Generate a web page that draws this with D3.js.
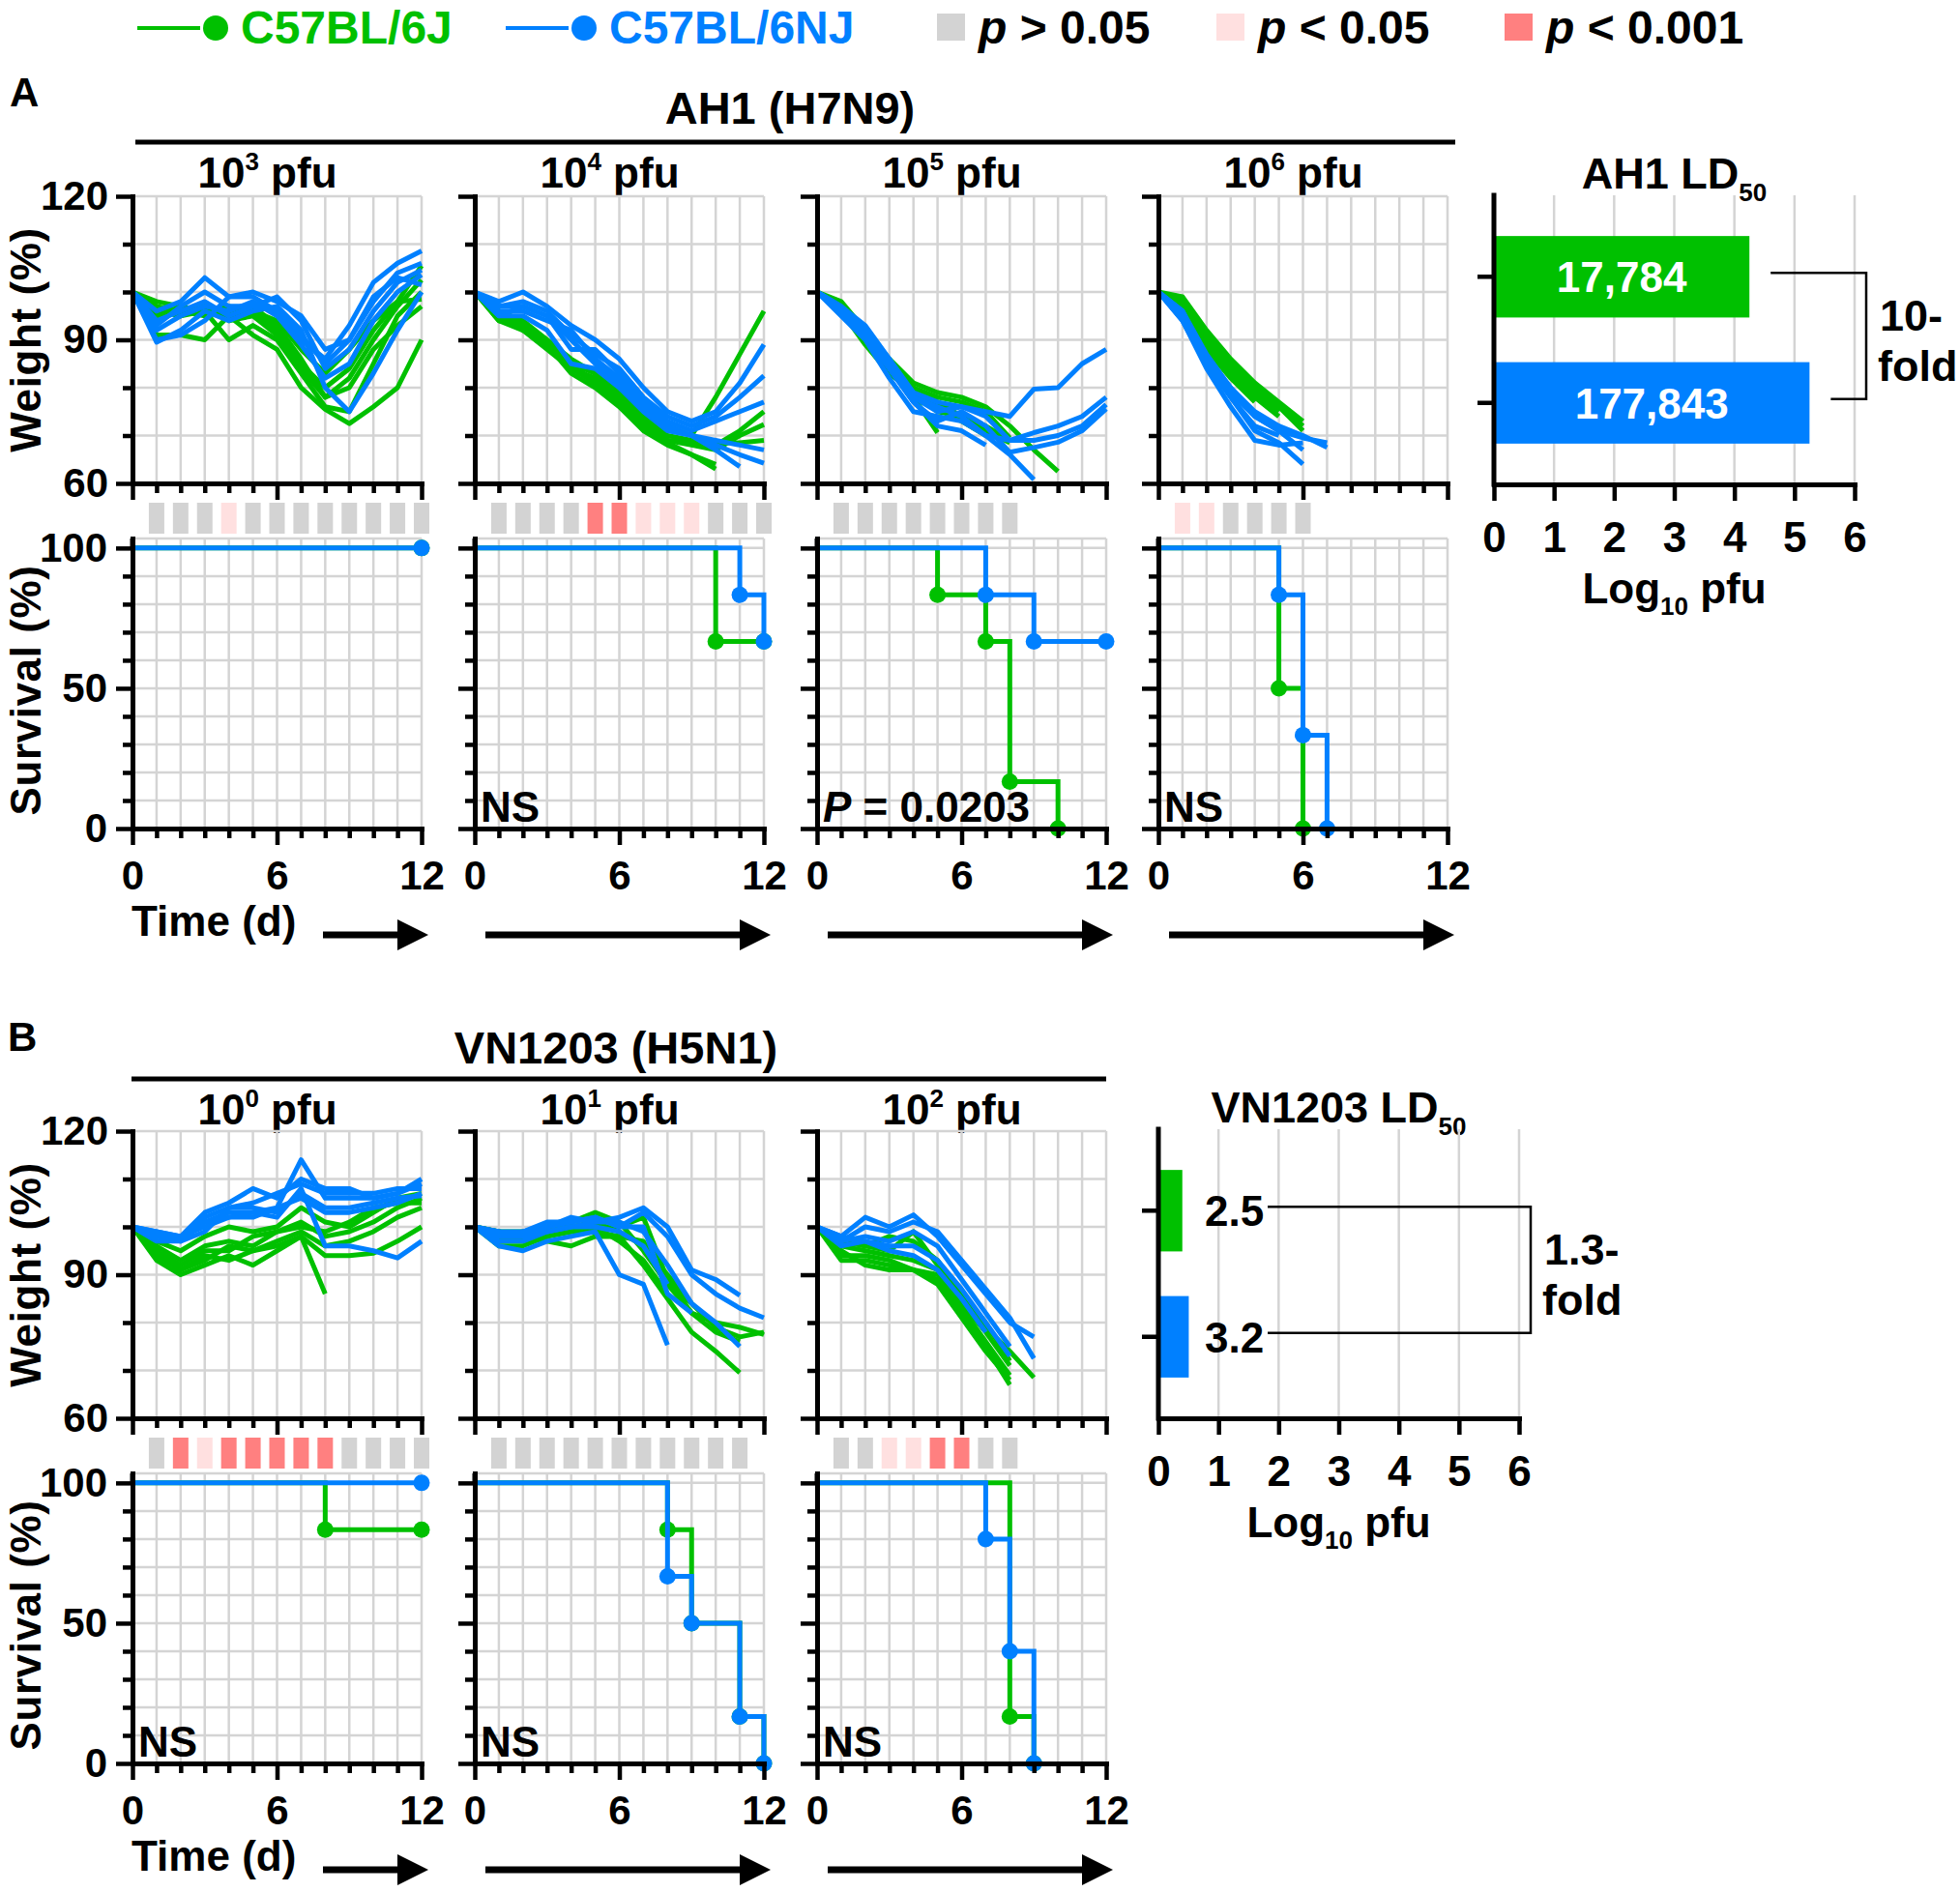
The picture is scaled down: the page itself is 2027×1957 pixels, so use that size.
<!DOCTYPE html>
<html>
<head>
<meta charset="utf-8">
<script src="https://cdn.jsdelivr.net/npm/d3@7"></script>
<style>body{margin:0;background:#fff}</style>
</head>
<body>
<div id="chart"></div>
<script>
// strains
const strainNames = ['C57BL/6J', 'C57BL/6NJ'];
const strainColors = ['#00c000', '#0080ff'];

// significance legend (0 = p>0.05, 1 = p<0.05, 2 = p<0.001)
const sigOps = ['>', '<', '<'];
const sigVals = ['0.05', '0.05', '0.001'];
const sigFill = ['#d3d3d3', '#ffe0e0', '#ff8080'];

// doses (log10 pfu)
const dosesA = [3, 4, 5, 6];
const dosesB = [0, 1, 2];

// body weight (% of day 0), one array per mouse, index = day
const wtA1J = [
  [100, 98, 97, 96, 97, 96, 92, 85, 80, 84, 92, 98, 105.5],
  [100, 96, 95, 97, 94, 95, 91, 84, 78, 82, 90, 97, 102.5],
  [100, 97, 95, 96, 90, 93, 90, 83, 76, 75, 85, 95, 100],
  [100, 95, 96, 97, 95, 96, 94, 88, 83, 88, 94, 98, 98.5],
  [100, 91, 91, 90, 95, 91, 88, 80, 75.5, 72.5, 76, 80, 90],
  [100, 97, 96, 95, 96, 97, 93, 86, 78, 80, 88, 93, 97]
];
const wtA1NJ = [
  [100, 90, 91, 94, 99, 99, 96, 90, 86, 93, 102, 106, 108.6],
  [100, 96, 98, 103, 99, 100, 98, 95, 88, 90, 98, 104, 106],
  [100, 93, 97, 100, 97, 97, 99, 94, 84, 88, 96, 102, 104.6],
  [100, 92, 95, 97, 96, 98, 95, 89, 82, 85, 94, 100, 103.6],
  [100, 89.5, 92, 96, 94, 96, 97, 92, 80, 75, 83, 92, 100],
  [100, 94, 96, 98, 95, 97, 96, 91, 85, 90, 99, 103, 101.5]
];
const wtA2J = [
  [100, 96, 94, 90, 85, 83, 80, 76, 72, 70, 78, 87, 96],
  [100, 95, 93, 89, 84, 82, 78, 74, 69, 68.5, 68, 71, 75],
  [100, 94, 92, 88, 84, 81, 77, 73, 69, 68, 67, 70, 72.3],
  [100, 96, 93, 90, 86, 83, 79, 74, 70, 69, 68.5, 68.5, 69],
  [100, 95, 92, 89, 85, 81, 77, 72, 68.5, 66, 64],
  [100, 94, 93, 89, 83, 80, 76, 71, 68, 66, 63]
];
const wtA2NJ = [
  [100, 98, 100, 97, 93, 90, 86, 80, 75, 73, 75, 81, 89],
  [100, 97, 98, 96, 91, 87, 84, 78, 74, 72, 74, 78, 82.5],
  [100, 95, 97, 95, 88, 88, 83, 77, 73, 71, 73, 75, 77],
  [100, 96, 96, 94, 92, 86, 82, 76, 72, 70, 69, 68, 67],
  [100, 95, 95, 92, 85, 84, 80, 75, 71, 70, 68, 66, 64.2],
  [100, 97, 97, 95, 90, 85, 81, 76, 72, 70, 67, 63.5]
];
const wtA3J = [
  [100, 98, 92, 86, 81, 79, 78, 76, 72, 67, 62.5],
  [100, 97, 91, 85, 80, 78, 77, 75, 69.5],
  [100, 96, 90, 84, 79, 76, 73, 70],
  [100, 97, 91, 84, 80, 77, 74, 72, 69],
  [100, 96, 89, 83, 79, 75, 74, 71, 68.5],
  [100, 97, 90, 84, 78, 70.6]
];
const wtA3NJ = [
  [100, 97, 93, 86, 79, 77, 76, 75, 74, 79.7, 80, 85, 88],
  [100, 96, 92, 85, 78, 75, 76, 74, 69, 70.6, 72, 74, 78],
  [100, 96, 91, 84, 77, 73, 75, 72, 66.5, 67.5, 68.6, 71, 75.6],
  [100, 95, 90, 82, 75, 74, 73, 70, 69, 69, 70, 72, 76.5],
  [100, 97, 92, 86, 78, 76, 74, 70, 66, 60.8],
  [100, 96, 91, 84, 77, 72, 71, 68]
];
const wtA4J = [
  [100, 99, 92, 86, 81, 77, 73],
  [100, 98, 91, 85, 80, 76.5, 72],
  [100, 97, 90, 84, 79, 76, 71],
  [100, 98, 90, 83, 79, 75],
  [100, 97, 89, 83, 78, 74],
  [100, 96, 88, 82, 77]
];
const wtA4NJ = [
  [100, 96, 86, 79, 74, 71, 67],
  [100, 95, 85, 78, 71, 68.5, 64],
  [100, 94, 84, 76, 69, 68, 68.5],
  [100, 96, 87, 80, 74, 71, 69.5, 68.5],
  [100, 95, 86, 80, 75, 72, 70, 67.5],
  [100, 94, 85, 78, 72, 70]
];
const wtB1J = [
  [100, 93, 90, 92, 94, 92, 95, 98, 94, 94, 94.5, 97, 100],
  [100, 95, 91, 93, 96, 95, 97, 99, 96, 97, 99, 102, 104],
  [100, 96, 93, 96, 97, 96, 99, 101, 98, 99, 101, 104, 106],
  [100, 95, 92, 95, 95, 98, 99, 100, 99, 101, 104, 105, 105],
  [100, 97, 95, 98, 100, 99, 100, 104, 101, 100, 103, 106, 107],
  [100, 94, 91, 94, 93, 95, 96, 98, 86]
];
const wtB1NJ = [
  [100, 98, 97, 101, 103, 103, 104, 114, 106, 106, 106, 107, 110],
  [100, 99, 98, 103, 105, 108, 106, 110, 108, 108, 106, 107, 109],
  [100, 98, 97, 102, 104, 105, 107, 109, 107, 107, 107, 108, 108],
  [100, 97, 97, 99, 104, 104, 103, 107, 104, 104, 105, 106, 106.5],
  [100, 99, 98, 100, 102, 103, 102, 108, 96, 96, 95, 93.5, 97],
  [100, 98, 98, 101, 102, 102, 104, 106, 103, 103, 104, 105, 107]
];
const wtB2J = [
  [100, 99, 99, 100, 101, 103, 101, 95, 88, 82, 78, 76],
  [100, 98, 98, 99, 100, 101, 99, 96, 90, 84, 79, 77, 78],
  [100, 97, 97, 98, 99, 99, 98, 92, 85, 78, 74, 69.5],
  [100, 98, 98, 98, 100, 100, 100, 102, 89, 82, 80, 79, 77.5],
  [100, 99, 98, 97, 96, 98, 98, 97, 88, 84],
  [100, 96, 96, 98, 99, 100, 97, 93, 86]
];
const wtB2NJ = [
  [100, 96, 95, 97, 98, 99, 90, 88, 75.3],
  [100, 98, 98, 100, 102, 101, 102, 104, 100, 91, 89, 85.7],
  [100, 99, 99, 101, 101, 102, 100, 103, 98, 90, 86, 83, 81],
  [100, 97, 97, 99, 100, 101, 101, 99, 92, 84, 80, 75],
  [100, 98, 99, 100, 101, 102, 100, 100, 86, 82],
  [100, 99, 98, 99, 100, 100, 99, 96, 88]
];
const wtB3J = [
  [100, 93, 93, 92, 91, 88, 81, 74, 68],
  [100, 94, 94, 93, 91, 89, 82, 75, 67],
  [100, 95, 92, 91, 91, 90, 83, 76, 69],
  [100, 97, 96, 95, 99, 92, 84, 78, 71],
  [100, 96, 95, 94, 93, 91, 85, 79, 74, 68.5],
  [100, 97, 96, 98, 97, 93, 86, 80, 72]
];
const wtB3NJ = [
  [100, 98, 102, 100, 102.5, 98, 92, 86, 80, 77],
  [100, 97, 100, 99, 101, 99, 93, 87, 81, 72.5],
  [100, 97, 98, 97, 99, 96, 89, 82, 75],
  [100, 96, 97, 96, 96, 93, 87, 80, 73],
  [100, 98, 97, 95, 94, 91, 85, 78]
];

// daily significance, first entry = day 1
const sigA1 = [0, 0, 0, 1, 0, 0, 0, 0, 0, 0, 0, 0];
const sigA2 = [0, 0, 0, 0, 2, 2, 1, 1, 1, 0, 0, 0];
const sigA3 = [0, 0, 0, 0, 0, 0, 0, 0];
const sigA4 = [1, 1, 0, 0, 0, 0];
const sigB1 = [0, 2, 1, 2, 2, 2, 2, 2, 0, 0, 0, 0];
const sigB2 = [0, 0, 0, 0, 0, 0, 0, 0, 0, 0, 0];
const sigB3 = [0, 0, 1, 1, 2, 2, 0, 0];

// survival [day, %]
const svA1J = [[0, 100], [12, 100]];
const svA1NJ = [[0, 100], [12, 100]];
const svA2J = [[0, 100], [10, 66.7], [12, 66.7]];
const svA2NJ = [[0, 100], [11, 83.3], [12, 66.7]];
const svA3J = [[0, 100], [5, 83.3], [7, 66.7], [8, 16.7], [10, 0]];
const svA3NJ = [[0, 100], [7, 83.3], [9, 66.7], [12, 66.7]];
const svA4J = [[0, 100], [5, 50], [6, 0]];
const svA4NJ = [[0, 100], [5, 83.3], [6, 33.3], [7, 0]];
const svB1J = [[0, 100], [8, 83.3], [12, 83.3]];
const svB1NJ = [[0, 100], [12, 100]];
const svB2J = [[0, 100], [8, 83.3], [9, 50], [11, 16.7], [12, 0]];
const svB2NJ = [[0, 100], [8, 66.7], [9, 50], [11, 16.7], [12, 0]];
const svB3J = [[0, 100], [8, 16.7], [9, 0]];
const svB3NJ = [[0, 100], [7, 80], [8, 40], [9, 0]];

// log-rank results
const notesA = ['', 'NS', 'P = 0.0203', 'NS'];
const notesB = ['NS', 'NS', 'NS'];

// LD50 (pfu)
const ld50A = [17784, 177843];
const ld50B = [2.5, 3.2];
const foldA = ['10-', 'fold'];
const foldB = ['1.3-', 'fold'];
const ldTicks = [0, 1, 2, 3, 4, 5, 6];

// ---- layout ----
const W = 2027, H = 1957;
const colX = [137, 491, 845, 1198];
const plotW = 299;
const rowOff = [0, 967];
const wtTop = 203, wtBot = 500;
const svTop = 557, svBot = 857;
const sigTop = 520, sigH = 32;
const gridCol = '#d4d4d4';
const FONT = '"Liberation Sans", Arial, Helvetica, sans-serif';

const svg = d3.select('#chart').append('svg')
  .attr('width', W).attr('height', H)
  .attr('viewBox', [0, 0, W, H])
  .style('font-family', FONT)
  .style('font-weight', 'bold');
svg.append('rect').attr('width', W).attr('height', H).attr('fill', '#fff');

function styleAxis(g, fs) {
  g.attr('font-family', null).attr('font-size', fs || 42).attr('font-weight', 'bold');
  g.select('.domain').attr('stroke-width', 5).attr('stroke-linecap', 'square');
  g.selectAll('.tick line').attr('stroke-width', 4.5);
  g.selectAll('.tick text').attr('fill', '#000');
}

// ---- legend ----
const legend = svg.append('g');
const legX = [[142, 223, 249], [523, 604, 630]];
strainNames.forEach((n, i) => {
  legend.append('line').attr('x1', legX[i][0]).attr('x2', legX[i][0] + 65)
    .attr('y1', 29).attr('y2', 29).attr('stroke', strainColors[i]).attr('stroke-width', 4);
  legend.append('circle').attr('cx', legX[i][1]).attr('cy', 29).attr('r', 13).attr('fill', strainColors[i]);
  legend.append('text').attr('x', legX[i][2]).attr('y', 45).attr('font-size', 48)
    .attr('fill', strainColors[i]).text(n);
});
const sigLegX = [969, 1258, 1556];
sigFill.forEach((c, i) => {
  legend.append('rect').attr('x', sigLegX[i]).attr('y', 14).attr('width', 29).attr('height', 28).attr('fill', c);
  const t = legend.append('text').attr('x', sigLegX[i] + 43).attr('y', 45).attr('font-size', 48);
  t.append('tspan').attr('font-style', 'italic').text('p');
  t.append('tspan').text(` ${sigOps[i]} ${sigVals[i]}`);
});

// ---- section headers ----
svg.append('text').attr('x', 10).attr('y', 110).attr('font-size', 42).text('A');
svg.append('text').attr('x', 8).attr('y', 1087).attr('font-size', 42).text('B');
svg.append('text').attr('x', 817).attr('y', 128).attr('font-size', 47).attr('text-anchor', 'middle').text('AH1 (H7N9)');
svg.append('line').attr('x1', 140).attr('x2', 1505).attr('y1', 147).attr('y2', 147).attr('stroke', '#000').attr('stroke-width', 5);
svg.append('text').attr('x', 637).attr('y', 1100).attr('font-size', 47).attr('text-anchor', 'middle').text('VN1203 (H5N1)');
svg.append('line').attr('x1', 136).attr('x2', 1144).attr('y1', 1116).attr('y2', 1116).attr('stroke', '#000').attr('stroke-width', 5);

// ---- one dose column: weight + significance strip + survival ----
function drawPanel(row, col, dose, wtJ, wtNJ, sig, svJ, svNJ, note) {
  const off = rowOff[row];
  const x0 = colX[col];
  const x = d3.scaleLinear().domain([0, 12]).range([x0, x0 + plotW]);
  const yW = d3.scaleLinear().domain([60, 120]).range([wtBot + off, wtTop + off]);
  const yS = d3.scaleLinear().domain([0, 103.4]).range([svBot + off, svTop + off]);
  const g = svg.append('g');
  const days = d3.range(1, 13);

  // title
  const t = g.append('text').attr('x', (x(0) + x(12)) / 2 - 10).attr('y', 194 + off + (row ? 2 : 0))
    .attr('font-size', 44).attr('text-anchor', 'middle');
  t.append('tspan').text('10');
  t.append('tspan').attr('font-size', 26).attr('dy', -18).text(dose);
  t.append('tspan').attr('dy', 18).text(' pfu');

  // grids
  const grid = g.append('g').attr('stroke', gridCol).attr('stroke-width', 2.5);
  grid.selectAll('.vw').data(days).join('line')
    .attr('x1', d => x(d)).attr('x2', d => x(d)).attr('y1', yW(60)).attr('y2', yW(120));
  grid.selectAll('.hw').data([70, 80, 90, 100, 110, 120]).join('line')
    .attr('x1', x(0)).attr('x2', x(12)).attr('y1', d => yW(d)).attr('y2', d => yW(d));
  grid.selectAll('.vs').data(days).join('line')
    .attr('x1', d => x(d)).attr('x2', d => x(d)).attr('y1', yS(0)).attr('y2', yS(103.4));
  grid.selectAll('.hs').data([10, 20, 30, 40, 50, 60, 70, 80, 90, 100, 103.4]).join('line')
    .attr('x1', x(0)).attr('x2', x(12)).attr('y1', d => yS(d)).attr('y2', d => yS(d));

  // weight lines
  const line = d3.line().x((d, i) => x(i)).y(d => yW(d));
  [wtJ, wtNJ].forEach((set, s) => {
    g.append('g').selectAll('path').data(set).join('path')
      .attr('d', line).attr('fill', 'none').attr('stroke', strainColors[s])
      .attr('stroke-width', 5).attr('stroke-linejoin', 'round');
  });

  // weight axes
  const yMaj = g.append('g').attr('transform', `translate(${x(0)},0)`)
    .call(d3.axisLeft(yW).tickValues([60, 90, 120]).tickSize(17).tickSizeOuter(0).tickPadding(8)
      .tickFormat(col === 0 ? d3.format('d') : () => ''));
  styleAxis(yMaj);
  const yMin = g.append('g').attr('transform', `translate(${x(0)},0)`)
    .call(d3.axisLeft(yW).tickValues([70, 80, 100, 110]).tickSize(10).tickSizeOuter(0).tickFormat(''));
  styleAxis(yMin);
  const xMaj = g.append('g').attr('transform', `translate(0,${yW(60)})`)
    .call(d3.axisBottom(x).tickValues([0, 6, 12]).tickSize(17).tickSizeOuter(0).tickFormat(''));
  styleAxis(xMaj);
  const xMin = g.append('g').attr('transform', `translate(0,${yW(60)})`)
    .call(d3.axisBottom(x).tickValues([1, 2, 3, 4, 5, 7, 8, 9, 10, 11]).tickSize(10).tickSizeOuter(0).tickFormat(''));
  styleAxis(xMin);

  // significance strip
  g.append('g').selectAll('rect').data(sig).join('rect')
    .attr('x', (d, i) => x(i + 1) - 8).attr('width', 16)
    .attr('y', sigTop + off).attr('height', sigH)
    .attr('fill', d => sigFill[d]);

  // survival
  const sline = d3.line().x(d => x(d[0])).y(d => yS(d[1])).curve(d3.curveStepAfter);
  [svJ, svNJ].forEach((sv, s) => {
    g.append('path').attr('d', sline(sv)).attr('fill', 'none')
      .attr('stroke', strainColors[s]).attr('stroke-width', 5);
    g.append('g').selectAll('circle').data(sv.slice(1)).join('circle')
      .attr('cx', d => x(d[0])).attr('cy', d => yS(d[1])).attr('r', 8.5)
      .attr('fill', strainColors[s]);
  });

  const sMaj = g.append('g').attr('transform', `translate(${x(0)},0)`)
    .call(d3.axisLeft(yS).tickValues([0, 50, 100]).tickSize(17).tickSizeOuter(0).tickPadding(9)
      .tickFormat(col === 0 ? d3.format('d') : () => ''));
  styleAxis(sMaj);
  g.append('line').attr('x1', x(0)).attr('x2', x(0)).attr('y1', yS(100)).attr('y2', yS(103.4))
    .attr('stroke', '#000').attr('stroke-width', 5);
  const sMin = g.append('g').attr('transform', `translate(${x(0)},0)`)
    .call(d3.axisLeft(yS).tickValues([10, 20, 30, 40, 60, 70, 80, 90]).tickSize(10).tickSizeOuter(0).tickFormat(''));
  styleAxis(sMin);
  const sxMaj = g.append('g').attr('transform', `translate(0,${yS(0)})`)
    .call(d3.axisBottom(x).tickValues([0, 6, 12]).tickSize(17).tickSizeOuter(0).tickPadding(16));
  styleAxis(sxMaj);
  const sxMin = g.append('g').attr('transform', `translate(0,${yS(0)})`)
    .call(d3.axisBottom(x).tickValues([1, 2, 3, 4, 5, 7, 8, 9, 10, 11]).tickSize(10).tickSizeOuter(0).tickFormat(''));
  styleAxis(sxMin);

  // log-rank note
  if (note) {
    const nt = g.append('text').attr('x', x(0) + 6).attr('y', yS(0) - 7).attr('font-size', 44);
    if (note.startsWith('P')) {
      nt.append('tspan').attr('font-style', 'italic').text('P');
      nt.append('tspan').text(note.slice(1));
    } else nt.text(note);
  }

  // time arrow
  const ay = svBot + off + 110;
  const ax1 = col === 0 ? x(0) + 197 : x(0) + 11;
  const ax2 = x(0) + 306;
  g.append('line').attr('x1', ax1).attr('x2', ax2 - 25).attr('y1', ay).attr('y2', ay)
    .attr('stroke', '#000').attr('stroke-width', 7);
  g.append('path').attr('d', `M${ax2 - 32},${ay - 16}L${ax2},${ay}L${ax2 - 32},${ay + 16}Z`).attr('fill', '#000');

  if (col === 0) {
    g.append('text').attr('x', x(0) - 1).attr('y', svBot + off + 111).attr('font-size', 44).text('Time (d)');
    const yt = (label, cy) => g.append('text')
      .attr('transform', `translate(42,${cy}) rotate(-90)`)
      .attr('text-anchor', 'middle').attr('font-size', 44).attr('letter-spacing', 0.6).text(label);
    yt('Weight (%)', (wtTop + wtBot) / 2 + off);
    yt('Survival (%)', 714 + off);
  }
}

drawPanel(0, 0, dosesA[0], wtA1J, wtA1NJ, sigA1, svA1J, svA1NJ, notesA[0]);
drawPanel(0, 1, dosesA[1], wtA2J, wtA2NJ, sigA2, svA2J, svA2NJ, notesA[1]);
drawPanel(0, 2, dosesA[2], wtA3J, wtA3NJ, sigA3, svA3J, svA3NJ, notesA[2]);
drawPanel(0, 3, dosesA[3], wtA4J, wtA4NJ, sigA4, svA4J, svA4NJ, notesA[3]);
drawPanel(1, 0, dosesB[0], wtB1J, wtB1NJ, sigB1, svB1J, svB1NJ, notesB[0]);
drawPanel(1, 1, dosesB[1], wtB2J, wtB2NJ, sigB2, svB2J, svB2NJ, notesB[1]);
drawPanel(1, 2, dosesB[2], wtB3J, wtB3NJ, sigB3, svB3J, svB3NJ, notesB[2]);

// ---- LD50 bar charts ----
function drawLD(top, left, vals, virus, fold, inside, fmt) {
  const x = d3.scaleLinear().domain([0, 6]).range([left, left + 373]);
  const y = d3.scaleBand().domain(strainNames).range([top, top + 299])
    .paddingInner(0.354).paddingOuter(0.323);
  const g = svg.append('g');

  const tt = g.append('text').attr('x', (x(0) + x(6)) / 2).attr('y', top - 7)
    .attr('font-size', 45).attr('text-anchor', 'middle');
  tt.append('tspan').text(virus + ' LD');
  tt.append('tspan').attr('font-size', 26).attr('dy', 13).text('50');

  g.append('g').attr('stroke', gridCol).attr('stroke-width', 2.5)
    .selectAll('line').data([1, 2, 3, 4, 5, 6]).join('line')
    .attr('x1', d => x(d)).attr('x2', d => x(d)).attr('y1', top).attr('y2', top + 299);

  g.append('g').selectAll('rect').data(vals).join('rect')
    .attr('x', x(0)).attr('y', (d, i) => y(strainNames[i]))
    .attr('width', d => x(Math.log10(d)) - x(0)).attr('height', y.bandwidth())
    .attr('fill', (d, i) => strainColors[i]);

  const cy = i => y(strainNames[i]) + y.bandwidth() / 2;
  g.append('g').selectAll('text').data(vals).join('text')
    .attr('x', d => inside ? (x(0) + x(Math.log10(d))) / 2 : x(0) + 48)
    .attr('y', (d, i) => cy(i) + 16)
    .attr('text-anchor', inside ? 'middle' : 'start')
    .attr('font-size', 44).attr('fill', inside ? '#fff' : '#000')
    .text(fmt);

  const yAx = g.append('g').attr('transform', `translate(${x(0)},0)`)
    .call(d3.axisLeft(y).tickSize(17).tickSizeOuter(0).tickFormat(''));
  styleAxis(yAx);
  yAx.select('.domain').attr('d', `M0,${top}V${top + 299}`);
  const xAx = g.append('g').attr('transform', `translate(0,${top + 299})`)
    .call(d3.axisBottom(x).tickValues(ldTicks).tickSize(17).tickSizeOuter(0).tickPadding(22)
      .tickFormat(d3.format('d')));
  styleAxis(xAx, 44);

  const lt = g.append('text').attr('x', (x(0) + x(6)) / 2).attr('y', top + 299 + 123)
    .attr('font-size', 44).attr('text-anchor', 'middle');
  lt.append('tspan').text('Log');
  lt.append('tspan').attr('font-size', 26).attr('dy', 12).text('10');
  lt.append('tspan').attr('dy', -12).text(' pfu');

  // fold-change bracket
  const bx = x(6) + 12;
  const sx = inside ? vals.map(d => x(Math.log10(d)) + 22) : [x(0) + 113, x(0) + 113];
  g.append('path')
    .attr('d', `M${sx[0]},${cy(0) - 4}H${bx}V${cy(1) - 4}H${sx[1]}`)
    .attr('fill', 'none').attr('stroke', '#000').attr('stroke-width', 2.5);
  const mid = (cy(0) + cy(1)) / 2;
  g.append('text').attr('x', bx + 14).attr('y', mid - 10).attr('font-size', 45).text(fold[0]);
  g.append('text').attr('x', bx + 12).attr('y', mid + 42).attr('font-size', 45).text(fold[1]);
}

drawLD(202, 1545, ld50A, 'AH1', foldA, true, d3.format(','));
drawLD(1168, 1198, ld50B, 'VN1203', foldB, false, d => d3.format('.1f')(d));
</script>
</body>
</html>
